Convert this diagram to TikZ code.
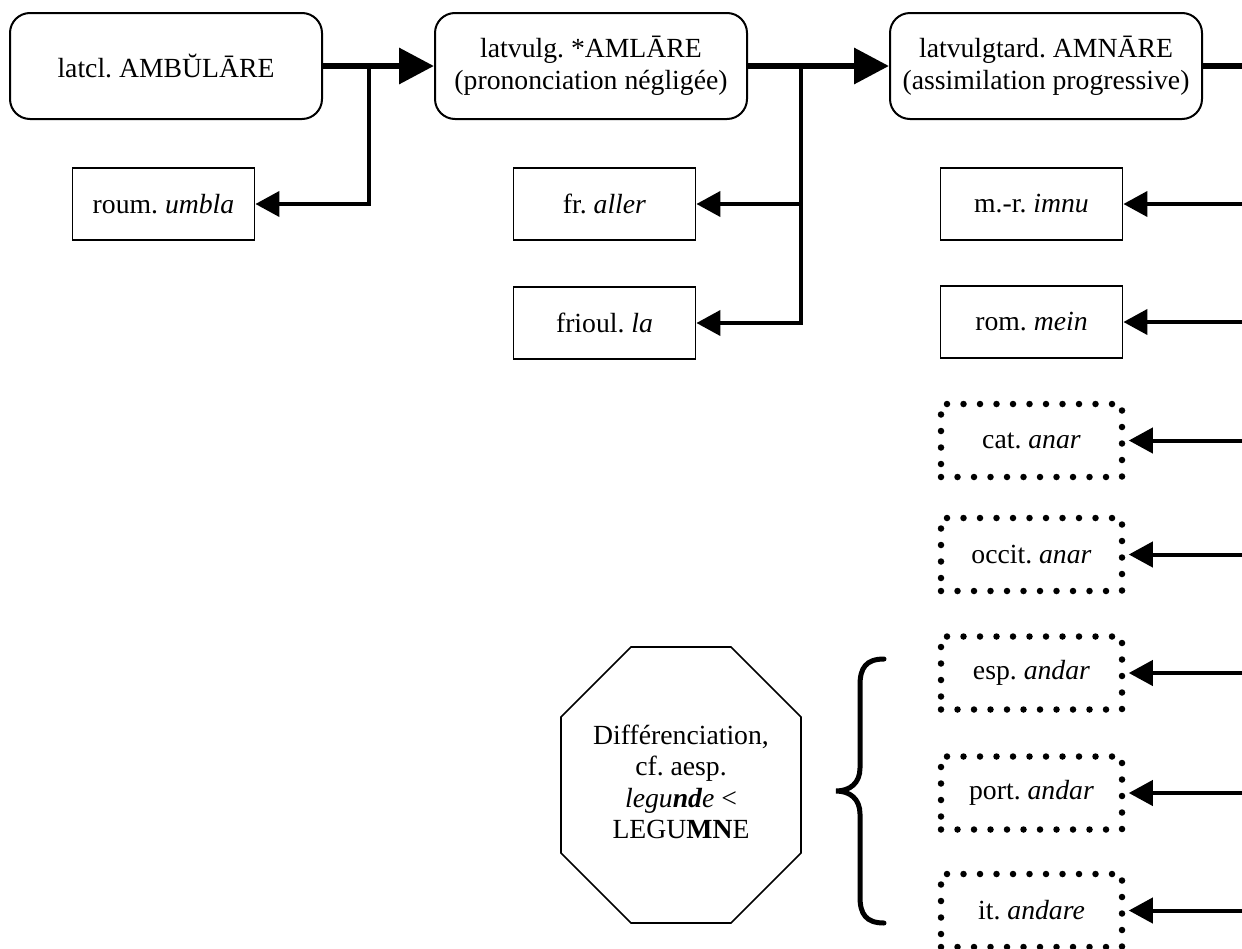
\documentclass[tikz,border=0pt]{standalone}
\usepackage{fontspec}
\setmainfont{Liberation Serif}
\frenchspacing
\usetikzlibrary{arrows.meta}
\tikzset{
  lbl/.style={font=\fontsize{27.7}{31.5}\selectfont\frenchspacing, align=center, inner sep=0pt},
  roundbox/.style={lbl, draw, line width=2pt, rounded corners=20pt, minimum width=312pt, minimum height=106pt},
  plainbox/.style={lbl, draw, line width=1.8pt, minimum width=182pt, minimum height=72pt},
  dotbox/.style={lbl, draw, line width=6.5pt, line cap=round, dash pattern=on 0pt off 16.5pt, minimum width=181pt, minimum height=73pt},
  octo/.style={draw, line width=1.6pt, line join=miter},
  thickarr/.style={line width=6.5pt, -{Triangle[length=35pt,width=35pt]}},
  thickline/.style={line width=6.5pt},
  thinarr/.style={line width=4pt, -{Triangle[length=24pt,width=25pt]}},
  bracestyle/.style={line width=5pt, line cap=round},
}
\begin{document}
\begin{tikzpicture}[x=1pt,y=-1pt]
\useasboundingbox (0,0) rectangle (1242,948);
\clip (0,0) rectangle (1242,948);
\fill[white] (0,0) rectangle (1242,948);

% main chain
\node[roundbox] (b1) at (166,66) {latcl. AMBŬLĀRE};
\node[roundbox] (b2) at (591,66) {latvulg. *AMLĀRE\\(prononciation négligée)};
\node[roundbox] (b3) at (1046,66) {latvulgtard. AMNĀRE\\(assimilation progressive)};

% descendants
\node[plainbox] (roum) at (163.5,204) {roum. \textit{umbla}};
\node[plainbox] (fr) at (604.5,204) {fr. \textit{aller}};
\node[plainbox] (friou) at (604.5,323) {frioul. \textit{la}};
\node[plainbox] (mr) at (1031.5,204) {m.-r. \textit{imnu}};
\node[plainbox] (rom) at (1031.5,322) {rom. \textit{mein}};

\node[dotbox] (cat) at (1031.5,440.5) {cat. \textit{anar}};
\node[dotbox] (occ) at (1031.5,554.5) {occit. \textit{anar}};
\node[dotbox] (esp) at (1031.5,673) {esp. \textit{andar}};
\node[dotbox] (port) at (1031.5,793) {port. \textit{andar}};
\node[dotbox] (ita) at (1031.5,910.5) {it. \textit{andare}};

% junctions
\coordinate (j1) at (369,66);
\coordinate (j2) at (801,66);
\coordinate (j3) at (1268,66);

% thick connectors
\draw[thickarr] (b1) -- (b2);
\draw[thickarr] (b2) -- (b3);
\draw[thickline] (b3) -- (j3);

% thin connectors
\draw[thinarr] (j1) |- (roum);
\draw[thinarr] (j2) |- (fr);
\draw[thinarr] (j2) |- (friou);
\draw[thinarr] (j3) |- (mr);
\draw[thinarr] (j3) |- (rom);
\draw[thinarr, shorten >=3.5pt] (j3) |- (cat);
\draw[thinarr, shorten >=3.5pt] (j3) |- (occ);
\draw[thinarr, shorten >=3.5pt] (j3) |- (esp);
\draw[thinarr, shorten >=3.5pt] (j3) |- (port);
\draw[thinarr, shorten >=3.5pt] (j3) |- (ita);

% octagon with note
\draw[octo] (631,647) -- (731,647) -- (801,717) -- (801,853) -- (731,923)
  -- (631,923) -- (561,853) -- (561,717) -- cycle;
\node[lbl] (diff) at (681,782) {Différenciation,\\cf. aesp.\\\textit{legu\textbf{nd}e} <\\LEGU\textbf{MN}E};

% brace
\draw[bracestyle] (884,659) .. controls (866,659) and (860,668) .. (860,685)
  -- (860,768) .. controls (860,783) and (850,791) .. (836,791)
  .. controls (850,791) and (860,799) .. (860,814)
  -- (860,897) .. controls (860,914) and (866,923) .. (884,923);
\end{tikzpicture}
\end{document}
